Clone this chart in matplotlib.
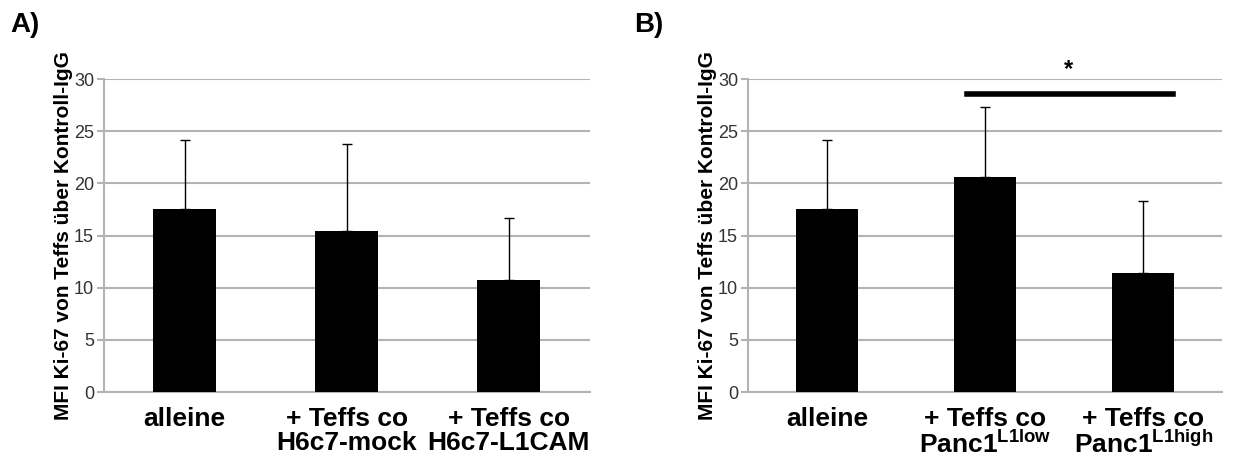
import numpy as np
import matplotlib.pyplot as plt

plt.rcParams['font.family'] = ['Liberation Sans', 'DejaVu Sans']
plt.rcParams['mathtext.fontset'] = 'custom'
plt.rcParams['mathtext.rm'] = 'Liberation Sans:bold'
plt.rcParams['mathtext.it'] = 'Liberation Sans:bold'
plt.rcParams['mathtext.bf'] = 'Liberation Sans:bold'

# Daten
labels_a = ['alleine', '+ Teffs co\nH6c7-mock', '+ Teffs co\nH6c7-L1CAM']
werte_a = [17.5, 15.4, 10.7]
fehler_a = [6.7, 8.4, 6.0]

labels_b = ['alleine', '+ Teffs co\nPanc1$^{\\mathbf{L1low}}$', '+ Teffs co\nPanc1$^{\\mathbf{L1high}}$']
werte_b = [17.5, 20.6, 11.4]
fehler_b = [6.7, 6.7, 6.9]

ylabel = 'MFI Ki-67 von Teffs über Kontroll-IgG'
grau = '#b3b3b3'

fig = plt.figure(figsize=(12.36, 4.57), dpi=100)
ax_a = fig.add_axes([0.084, 0.142, 0.393, 0.685])
ax_b = fig.add_axes([0.605, 0.142, 0.384, 0.685])


def panel(ax, labels, werte, fehler):
    x = np.arange(len(werte))
    ax.bar(x, werte, width=0.39, color='black', zorder=3)
    ax.errorbar(x, werte, yerr=[np.zeros(len(fehler)), fehler], fmt='none',
                ecolor='black', elinewidth=1, capsize=3.5, capthick=1, zorder=4)
    ax.set_xlim(-0.5, 2.5)
    ax.set_ylim(0, 30)
    ax.set_yticks(range(0, 31, 5))
    ax.yaxis.grid(True, color=grau, linewidth=1.5, zorder=0)
    ax.set_axisbelow(True)
    for s in ['top', 'right']:
        ax.spines[s].set_visible(False)
    ax.spines['left'].set_color(grau)
    ax.spines['bottom'].set_color(grau)
    ax.spines['left'].set_linewidth(1.5)
    ax.spines['bottom'].set_linewidth(1.5)
    ax.tick_params(axis='y', colors=grau, labelcolor='#333333', labelsize=13,
                   length=5, width=1.5, pad=2)
    ax.tick_params(axis='x', length=0, pad=11)
    ax.set_xticks(x)
    ax.set_xticklabels(labels, fontsize=19, fontweight='bold', va='top',
                       linespacing=1.0)
    ax.set_ylabel(ylabel, fontsize=15, fontweight='bold', labelpad=1)


panel(ax_a, labels_a, werte_a, fehler_a)
panel(ax_b, labels_b, werte_b, fehler_b)

# Signifikanz
ax_b.plot([0.885, 2.187], [28.6, 28.6], color='black', linewidth=4, clip_on=False)
ax_b.text(1.53, 30.9, '*', fontsize=17, fontweight='bold', ha='center', va='center')

fig.text(0.008, 0.945, 'A)', fontsize=20, fontweight='bold', va='center')
fig.text(0.513, 0.945, 'B)', fontsize=20, fontweight='bold', va='center')

fig.savefig('out.png', dpi=100)
